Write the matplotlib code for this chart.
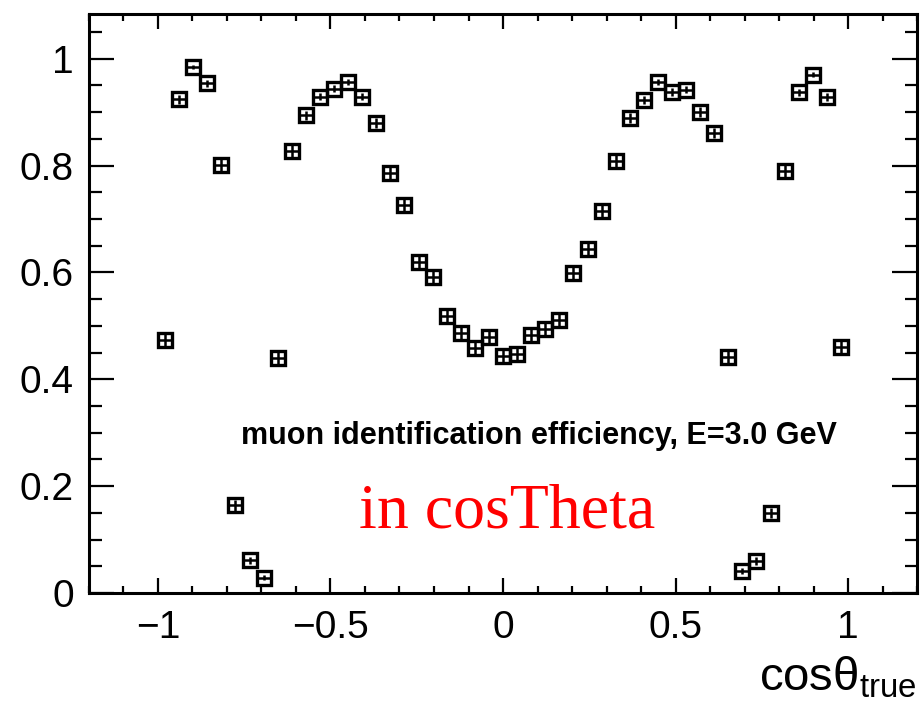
#!/usr/bin/env python
# -*- coding: utf-8 -*-
"""
Muon identification efficiency versus true cos(theta), E = 3.0 GeV
"""

import numpy as np
import matplotlib

matplotlib.use("Agg")
import matplotlib.pyplot as plt
from matplotlib.ticker import MultipleLocator

plt.rcParams["font.family"] = ["Liberation Sans", "DejaVu Sans"]
plt.rcParams["mathtext.fontset"] = "custom"
plt.rcParams["mathtext.rm"] = "Liberation Sans"

N_BINS = 49  # equal bins in cos(theta) over [-1, 1]

efficiency = [
    0.473, 0.924, 0.984, 0.954, 0.801, 0.164, 0.061, 0.029, 0.440, 0.828,
    0.894, 0.929, 0.944, 0.956, 0.929, 0.880, 0.786, 0.726, 0.619, 0.591,
    0.519, 0.487, 0.459, 0.480, 0.444, 0.447, 0.483, 0.494, 0.511, 0.599,
    0.644, 0.715, 0.809, 0.889, 0.923, 0.957, 0.938, 0.942, 0.900, 0.861,
    0.441, 0.041, 0.060, 0.150, 0.790, 0.937, 0.970, 0.928, 0.461,
]

eff_err = [
    0.015, 0.008, 0.004, 0.006, 0.012, 0.010, 0.007, 0.005, 0.015, 0.011,
    0.009, 0.007, 0.007, 0.006, 0.007, 0.009, 0.012, 0.013, 0.015, 0.015,
    0.015, 0.015, 0.015, 0.015, 0.015, 0.015, 0.015, 0.015, 0.015, 0.015,
    0.015, 0.013, 0.012, 0.009, 0.008, 0.006, 0.007, 0.007, 0.009, 0.010,
    0.015, 0.006, 0.007, 0.010, 0.012, 0.007, 0.005, 0.008, 0.015,
]

XTICKS = [-1, -0.5, 0, 0.5, 1]
XTICKLABELS = ["\u22121", "\u22120.5", "0", "0.5", "1"]
YTICKS = [0, 0.2, 0.4, 0.6, 0.8, 1]
YTICKLABELS = ["0", "0.2", "0.4", "0.6", "0.8", "1"]

edges = np.linspace(-1, 1, N_BINS + 1)
centers = 0.5 * (edges[1:] + edges[:-1])
half_width = 0.5 * (edges[1] - edges[0])

fig = plt.figure(figsize=(9.21, 7.07), dpi=100)
ax = fig.add_axes([0.0966, 0.1612, 0.8991, 0.8188])

ax.errorbar(
    centers,
    efficiency,
    xerr=half_width,
    yerr=eff_err,
    fmt="s",
    ms=10.5,
    mfc="none",
    mec="black",
    mew=2.4,
    ecolor="black",
    elinewidth=1.8,
    capsize=0,
)

ax.set_xlim(-1.2, 1.2)
ax.set_ylim(0, 1.0835)

ax.set_xticks(XTICKS)
ax.set_xticklabels(XTICKLABELS)
ax.set_yticks(YTICKS)
ax.set_yticklabels(YTICKLABELS)
ax.xaxis.set_minor_locator(MultipleLocator(0.1))
ax.yaxis.set_minor_locator(MultipleLocator(0.05))

ax.tick_params(axis="both", which="both", direction="in", top=True, right=True,
               width=1.6, labelsize=28)
ax.tick_params(axis="x", which="major", length=11, pad=12)
ax.tick_params(axis="x", which="minor", length=5)
ax.tick_params(axis="y", which="major", length=18, pad=11)
ax.tick_params(axis="y", which="minor", length=9)
for spine in ax.spines.values():
    spine.set_linewidth(2.2)

fig.text(0.9957, 0.024, "cos\u03b8$_\\mathregular{true}$", ha="right", va="baseline",
         fontsize=34)

ax.text(0.543, 0.271, "muon identification efficiency, E=3.0 GeV", transform=ax.transAxes,
        ha="center", va="center", fontsize=22, fontweight="bold")
ax.text(0.505, 0.113, "in cosTheta", transform=ax.transAxes, ha="center",
        va="baseline", fontsize=46, color="red", family="Liberation Serif")

fig.savefig("out.png", dpi=100)
